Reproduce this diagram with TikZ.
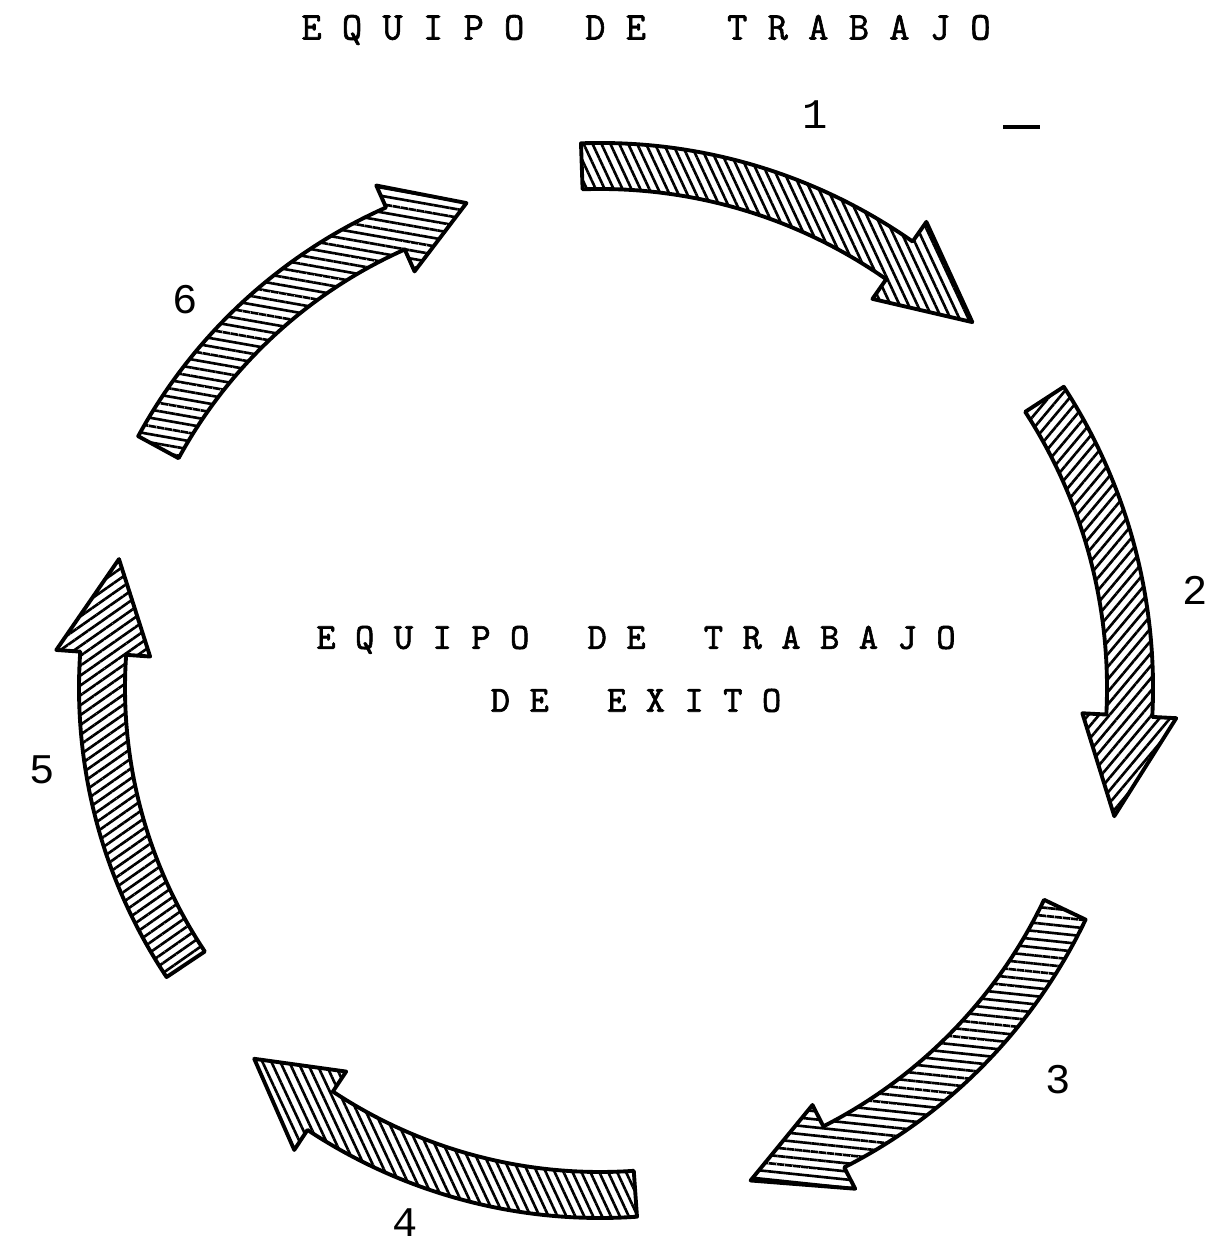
\documentclass[tikz,border=0pt]{standalone}
\usepackage{fontspec}
\newfontfamily\digitfont{Liberation Mono}
\newfontfamily\typefont{Latin Modern Mono}[FakeBold=1.6]
\usepackage{tikz}
\usetikzlibrary{patterns.meta}
\tikzstyle{cyclearrow}=[draw, line width=1.1pt, line join=round]
\tikzstyle{steplabel}=[font=\digitfont\fontsize{12}{12}\selectfont, inner sep=0pt]
\tikzstyle{typed}=[font=\typefont\fontsize{10.5}{17.9}\selectfont, align=center, inner sep=0pt]

\begin{document}
\begin{tikzpicture}
    \useasboundingbox (0,0) rectangle (12.14,12.45);

    \def\shaft{0.23}
    \def\head{0.47}

    % titles
    \node[typed, font=\typefont\fontsize{11.2}{12}\selectfont] (title) at (6.46,12.15) {E Q U I P O\ \ \ D E\ \ \ \ T R A B A J O};
    \node[typed] (centre) at (6.36,5.76) {E Q U I P O\ \ \ D E\ \ \ T R A B A J O\\D E\ \ \ E X I T O};

    % the six hatched arrows, clockwise round the centre
    \begin{scope}[shift={(6.00,5.57)}]
    \foreach \tail/\base/\tip/\rad/\hatch in {92/55/44.5/5.22/-65, 33/-3/-14/5.30/50, -25.5/-63/-73/5.15/-6, -86/-123.5/-133/5.07/-65, 213.7/176/165/4.98/35, 151.4/114/105.4/5.03/-10}
    {
        \pgfmathsetmacro\ro{\rad+\shaft}
        \pgfmathsetmacro\ri{\rad-\shaft}
        \pgfmathsetmacro\hro{\rad+\head}
        \pgfmathsetmacro\hri{\rad-\head}
        \path[cyclearrow, pattern={Lines[angle=\hatch,distance=2.3pt,line width=0.75pt]}]
            (\tail:\ro) arc[start angle=\tail, end angle=\base, radius=\ro]
            -- (\base:\hro) -- (\tip:\rad) -- (\base:\hri) -- (\base:\ri)
            arc[start angle=\base, end angle=\tail, radius=\ri] -- cycle;
    }
    \end{scope}

    % step numbers
    \foreach \x/\y/\num in {8.15/11.30/1, 11.95/6.55/2, 10.58/1.65/3, 4.05/0.22/4, 0.42/4.75/5, 1.85/9.45/6}
        \node[steplabel] (L\num) at (\x,\y) {\num};

    \draw[line width=1pt] (10.03,11.18) -- (10.40,11.18);
\end{tikzpicture}
\end{document}
